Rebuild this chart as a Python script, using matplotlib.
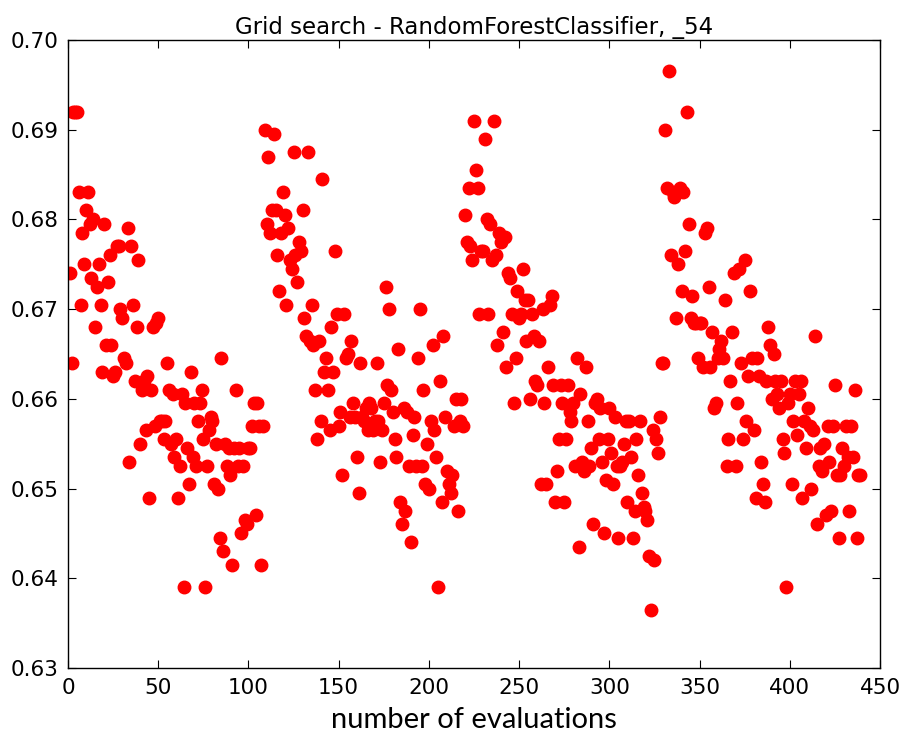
import numpy as np
import matplotlib
matplotlib.use("Agg")
import matplotlib.pyplot as plt

# accuracy per evaluation (four sweeps of the grid)
sweep1 = [0.674, 0.664, 0.692, 0.692, 0.692, 0.683, 0.6705, 0.6785, 0.675, 0.681,
          0.683, 0.6795, 0.6735, 0.680, 0.668, 0.6725, 0.675, 0.6705, 0.663, 0.6795,
          0.666, 0.673, 0.676, 0.666, 0.6625, 0.663, 0.677, 0.677, 0.670, 0.669,
          0.6645, 0.664, 0.679, 0.653, 0.677, 0.6705, 0.662, 0.668, 0.6755, 0.655,
          0.661, 0.662, 0.6565, 0.6625, 0.649, 0.661, 0.668, 0.657, 0.6685, 0.669,
          0.6575, 0.6575, 0.6555, 0.6575, 0.664, 0.661, 0.655, 0.6605, 0.6535, 0.6555,
          0.649, 0.6525, 0.6605, 0.639, 0.6595, 0.6545, 0.6505, 0.663, 0.6535, 0.6595,
          0.6525, 0.6575, 0.6595, 0.661, 0.6555, 0.639, 0.6525, 0.6565, 0.658, 0.6575,
          0.6505, 0.655, 0.650, 0.6445, 0.6645, 0.643, 0.655, 0.6525, 0.6545, 0.6515,
          0.6415, 0.6545, 0.661, 0.6525, 0.6545, 0.645, 0.6525, 0.6465, 0.646, 0.6545,
          0.6545, 0.657, 0.6595, 0.647, 0.6595, 0.657, 0.6415, 0.657]
sweep2 = [0.690, 0.6795, 0.687, 0.6785, 0.681, 0.6895, 0.681, 0.676, 0.672, 0.6785,
          0.683, 0.6805, 0.6705, 0.679, 0.6755, 0.6745, 0.6875, 0.676, 0.673, 0.6775,
          0.6765, 0.681, 0.669, 0.667, 0.6875, 0.6665, 0.6705, 0.666, 0.661, 0.6555,
          0.6665, 0.6575, 0.6845, 0.663, 0.6645, 0.661, 0.6565, 0.668, 0.663, 0.6765,
          0.6695, 0.657, 0.6585, 0.6515, 0.6695, 0.6645, 0.665, 0.658, 0.6665, 0.6595,
          0.658, 0.6535, 0.6495, 0.664, 0.658, 0.6575, 0.659, 0.6565, 0.6595, 0.659,
          0.6565, 0.6575, 0.664, 0.6575, 0.653, 0.6565, 0.6595, 0.6725, 0.6615, 0.670,
          0.661, 0.6585, 0.6555, 0.6535, 0.6655, 0.6485, 0.646, 0.659, 0.6475, 0.6585,
          0.6525, 0.644, 0.656, 0.658, 0.6525, 0.6645, 0.670, 0.6525, 0.661, 0.6505,
          0.655, 0.650, 0.6575, 0.666, 0.6565, 0.6535, 0.639, 0.662, 0.6485, 0.667,
          0.658, 0.652, 0.6505, 0.6495, 0.6515, 0.657, 0.660, 0.6475, 0.6575, 0.660,
          0.657]
sweep3 = [0.6805, 0.6775, 0.6835, 0.677, 0.6755, 0.691, 0.6855, 0.6835, 0.6695, 0.6765,
          0.6765, 0.689, 0.680, 0.6695, 0.6795, 0.6755, 0.691, 0.676, 0.666, 0.6785,
          0.6775, 0.6675, 0.678, 0.6635, 0.674, 0.6735, 0.6695, 0.6595, 0.6645, 0.672,
          0.669, 0.6695, 0.6745, 0.671, 0.6665, 0.671, 0.660, 0.6695, 0.667, 0.662,
          0.6615, 0.6665, 0.6505, 0.670, 0.6595, 0.6505, 0.6635, 0.6705, 0.6715, 0.6615,
          0.6485, 0.652, 0.6555, 0.6615, 0.6595, 0.6485, 0.6555, 0.6615, 0.6585, 0.6575,
          0.6595, 0.6525, 0.6645, 0.6435, 0.6605, 0.653, 0.652, 0.6635, 0.6575, 0.6525,
          0.6545, 0.646, 0.6595, 0.660, 0.6555, 0.659, 0.653, 0.645, 0.651, 0.6555,
          0.659, 0.654, 0.6505, 0.658, 0.6525, 0.6445, 0.6525, 0.653, 0.655, 0.6575,
          0.6485, 0.6575, 0.6535, 0.6445, 0.6475, 0.6555, 0.6515, 0.6575, 0.6495, 0.648,
          0.6475, 0.6465, 0.6425, 0.6365, 0.6565, 0.642, 0.6555, 0.654, 0.658, 0.664]
sweep4 = [0.664, 0.690, 0.6835, 0.6965, 0.676, 0.683, 0.6825, 0.669, 0.675, 0.6835,
          0.672, 0.683, 0.6765, 0.692, 0.6795, 0.669, 0.6715, 0.6685, 0.6685, 0.6645,
          0.6685, 0.6685, 0.6635, 0.6785, 0.679, 0.6725, 0.6635, 0.6675, 0.659, 0.6595,
          0.6645, 0.6655, 0.6665, 0.6645, 0.671, 0.6525, 0.6555, 0.662, 0.6675, 0.674,
          0.6525, 0.6595, 0.6745, 0.664, 0.6555, 0.6755, 0.6575, 0.6625, 0.672, 0.6645,
          0.6565, 0.649, 0.6645, 0.6625, 0.653, 0.6505, 0.6485, 0.662, 0.668, 0.666,
          0.660, 0.665, 0.662, 0.6605, 0.659, 0.662, 0.6555, 0.654, 0.639, 0.6595,
          0.6605, 0.6505, 0.6575, 0.662, 0.656, 0.6605, 0.662, 0.649, 0.6575, 0.6545,
          0.659, 0.657, 0.650, 0.6565, 0.667, 0.646, 0.6525, 0.6545, 0.652, 0.655,
          0.647, 0.657, 0.653, 0.6475, 0.657, 0.6615, 0.6515, 0.6445, 0.6515, 0.6545,
          0.6525, 0.657, 0.6535, 0.6475, 0.657, 0.6535, 0.661, 0.6445, 0.6515, 0.6515]

scores = np.array(sweep1 + sweep2 + sweep3 + sweep4)
evals = np.arange(len(scores)) + 1

fig = plt.figure(figsize=(9.01, 7.36), dpi=100)
ax = fig.add_axes([0.0755, 0.0924, 0.9012, 0.8533])

ax.plot(evals, scores, 'o', color='red', markeredgecolor='red', markersize=9)

ax.set_xlim(0, 450)
ax.set_ylim(0.63, 0.70)
ax.set_xticks(np.arange(0, 451, 50))
ax.set_yticks(np.arange(0.63, 0.7001, 0.01))
ax.set_yticklabels(['%.2f' % v for v in np.arange(0.63, 0.7001, 0.01)])
ax.tick_params(direction='in', top=True, right=True, labelsize=15.5, length=6, pad=7)
for s in ax.spines.values():
    s.set_linewidth(1.0)

ax.set_title('Grid search - RandomForestClassifier, _54', fontsize=16.5, pad=4)
ax.set_xlabel('number of evaluations', fontsize=21, family='Lato', labelpad=7)

fig.savefig('out.png', dpi=100)
